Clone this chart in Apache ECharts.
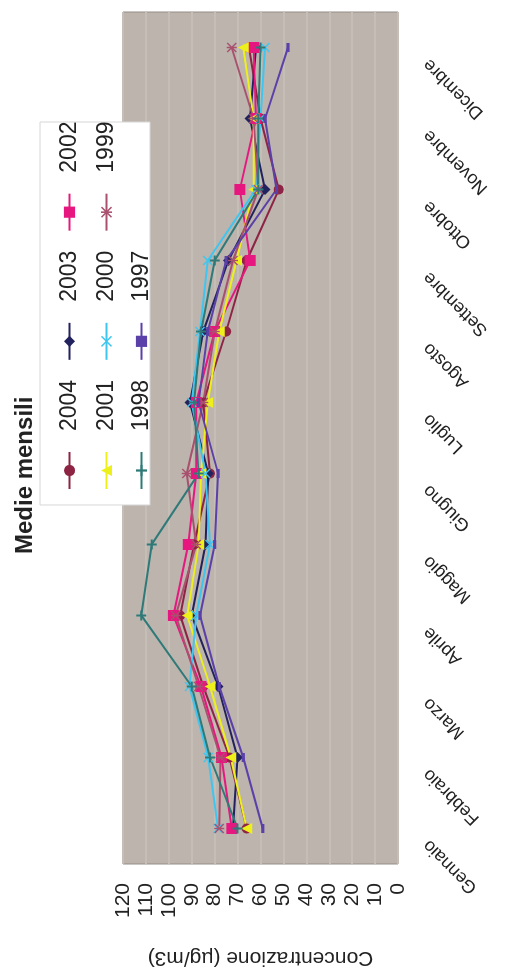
<!DOCTYPE html>
<html><head><meta charset="utf-8">
<script src="https://cdn.jsdelivr.net/npm/echarts@6/dist/echarts.min.js"></script>
<style>
html,body{margin:0;padding:0;background:#fff;overflow:hidden;width:508px;height:967px}
#chart{position:absolute;left:0;top:0;width:967px;height:508px;transform-origin:0 0;transform:translate(0,967px) rotate(-90deg);}
</style></head><body><div id="chart"></div>
<script>
const months = ['Gennaio','Febbraio','Marzo','Aprile','Maggio','Giugno','Luglio','Agosto','Settembre','Ottobre','Novembre','Dicembre'];
const valueMin = 0, valueMax = 120, valueStep = 10;
const s2004 = [66, 73.5, 85, 95, 89, 82, 85, 75, 66, 52, 60, 65];
const s2003 = [72, 70, 78.5, 90, 84, 82.8, 90.8, 85, 74, 58, 64.6, 62];
const s2002 = [72.5, 77, 86, 98, 91.5, 88, 88, 80, 64.5, 69, 62, 63];
const s2001 = [66, 73, 82, 92, 87, 86, 83, 78, 70.5, 63, 63, 67.5];
const s2000 = [78.5, 82.8, 91, 88, 82, 84, 90, 86.4, 83, 62, 60, 58];
const s1999 = [78, 77.5, 87, 97, 88, 92.2, 85, 80, 72, 61, 63, 72.6];
const s1998 = [70, 82, 90, 112, 107.5, 87, 89, 86, 80, 61, 61, 60];
const s1997 = [59, 67.5, 78, 86.4, 80, 78.5, 87, 83, 75, 53, 58, 48];

const X_PATH = 'path://M1,0 L5,4 L9,0 L10,1 L6,5 L10,9 L9,10 L5,6 L1,10 L0,9 L4,5 L0,1 Z';
const STAR_PATH = 'path://M1,0 L5,4 L9,0 L10,1 L6,5 L10,9 L9,10 L5,6 L1,10 L0,9 L4,5 L0,1 Z M4.3,0 L5.7,0 L5.7,10 L4.3,10 Z';
const PLUS_PATH = 'path://M4,0 L6,0 L6,4 L10,4 L10,6 L6,6 L6,10 L4,10 L4,6 L0,6 L0,4 L4,4 Z';
const DASH_PATH = 'path://M0,0 L10,0 L10,3.5 L0,3.5 Z';

const defs = [
  {name:'2004', data:s2004, color:'#8e2444', symbol:'circle', size:10},
  {name:'2003', data:s2003, color:'#22225e', symbol:'diamond', size:11},
  {name:'2002', data:s2002, color:'#e6187f', symbol:'rect', size:11},
  {name:'2001', data:s2001, color:'#eef01c', symbol:'triangle', size:11},
  {name:'2000', data:s2000, color:'#3fc6f0', symbol:X_PATH, size:10},
  {name:'1999', data:s1999, color:'#a8506e', symbol:STAR_PATH, size:10},
  {name:'1998', data:s1998, color:'#2f7a78', symbol:PLUS_PATH, size:10},
  {name:'1997', data:s1997, color:'#5a40a8', symbol:DASH_PATH, size:9}
];

const FONT = 'Liberation Sans, Arial, sans-serif';
const chart = echarts.init(document.getElementById('chart'));
const legendBase = {
  orient:'horizontal', itemWidth:37, itemHeight:14, itemGap:19, z:20,
  textStyle:{fontSize:23, color:'#222', fontFamily:FONT, padding:[0,0,0,16]},
  inactiveColor:'#ccc'
};
chart.setOption({
  backgroundColor:'#ffffff',
  animation:false,
  title:{text:'Medie mensili', left:408, top:8,
    textStyle:{fontSize:24, fontWeight:'bold', color:'#222', fontFamily:FONT}},
  legend:[
    Object.assign({}, legendBase, {data:['2004','2003','2002'], left:472, top:53}),
    Object.assign({}, legendBase, {data:['2001','2000','1999'], left:472, top:90}),
    Object.assign({}, legendBase, {data:['1998','1997'], left:472, top:125})
  ],
  graphic:[{type:'rect', z:15, shape:{x:462, y:40, width:383, height:110},
    style:{fill:'#ffffff', stroke:'#d6d6d6', lineWidth:1}}],
  grid:{left:103, right:12, top:123, bottom:110, show:true, containLabel:false, outerBoundsMode:'none',
    backgroundColor:'#bcb4ad', borderColor:'#948c86', borderWidth:1},
  xAxis:{type:'category', data:months, boundaryGap:true,
    axisLine:{show:false}, axisTick:{show:false},
    axisLabel:{interval:0, rotate:45, margin:14, fontSize:18, color:'#222', fontFamily:FONT, padding:[0,20,0,0]}},
  yAxis:{type:'value', min:valueMin, max:valueMax, interval:valueStep,
    name:'Concentrazione (µg/m3)', nameLocation:'middle', nameGap:83,
    nameTextStyle:{fontSize:21, color:'#222', fontFamily:FONT},
    axisLine:{show:false}, axisTick:{show:false},
    axisLabel:{margin:19, fontSize:21, color:'#222', fontFamily:FONT},
    splitLine:{show:true, lineStyle:{color:'#c5beb7', width:2}}},
  series: defs.map(d => ({
    name:d.name, type:'line', data:d.data, symbol:d.symbol, symbolSize:d.size,
    symbolKeepAspect:true, showAllSymbol:true, z:3,
    lineStyle:{color:d.color, width:2}, itemStyle:{color:d.color}
  }))
});
</script></body></html>
